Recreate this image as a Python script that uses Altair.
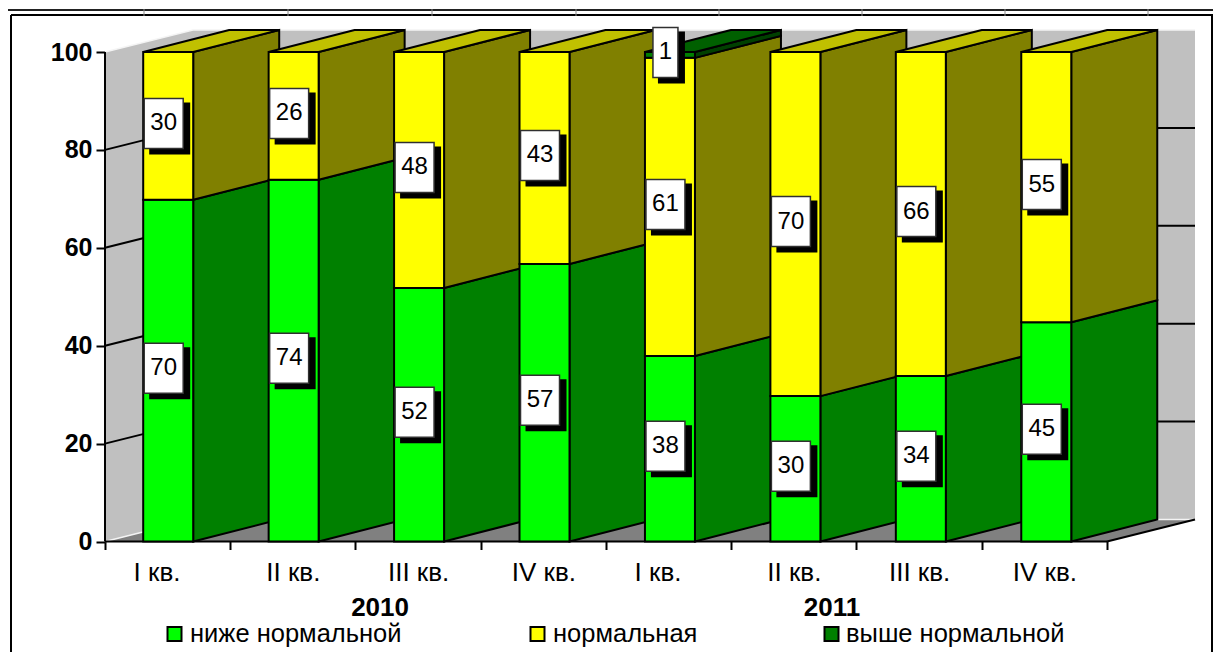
import json
import altair as alt
import pandas as pd

quarters = ["I кв.", "II кв.", "III кв.", "IV кв.", "I кв.", "II кв.", "III кв.", "IV кв."]
years = ["2010", "2011"]
series = ["ниже нормальной", "нормальная", "выше нормальной"]
below = [69.8, 73.9, 51.8, 56.7, 37.9, 29.7, 33.8, 44.8]
normal = [30.2, 26.1, 48.2, 43.3, 60.9, 70.3, 66.2, 55.2]
above = [0, 0, 0, 0, 1.2, 0, 0, 0]
labels_below = ["70", "74", "52", "57", "38", "30", "34", "45"]
labels_normal = ["30", "26", "48", "43", "61", "70", "66", "55"]
labels_above = ["", "", "", "", "1", "", "", ""]
ticks_y = [0, 20, 40, 60, 80, 100]

front_colors = ["#00ff00", "#ffff00", "#008000"]
side_colors = ["#008000", "#808000", "#004000"]
top_colors = ["#00c000", "#c0c000", "#006000"]

PX_X = 125.25
PX_Y = 4.895
WIDTH = 1090
HEIGHT = 511.5
WALL_DX = 88 / PX_X
BAR_DX = 86 / PX_X
DEPTH_Y = 22 / PX_Y
BAR_GAP = 0.305
BAR_W = 50 / PX_X
N = len(quarters)
X_DOMAIN = [0, WIDTH / PX_X]
Y_DOMAIN = [0, HEIGHT / PX_Y]

xs = alt.Scale(domain=X_DOMAIN, range=[0, WIDTH], nice=False, zero=False)
ys = alt.Scale(domain=Y_DOMAIN, range=[HEIGHT, 0], nice=False, zero=False)


def X(f="x"):
    return alt.X(f"{f}:Q", scale=xs, title=None, axis=None)


def Y(f="y"):
    return alt.Y(f"{f}:Q", scale=ys, title=None, axis=None)


fronts, sides, tops, boxes = [], [], [], []
for i in range(N):
    x0 = i + BAR_GAP + i * 0.0015
    x1 = x0 + BAR_W
    base = 0
    last = 0
    segs = zip([below[i], normal[i], above[i]],
               [labels_below[i], labels_normal[i], labels_above[i]], range(3))
    for v, lab, k in segs:
        if v <= 0:
            continue
        hi = base + v
        fronts.append(dict(x=x0, x2=x1, y=base, y2=hi, fill=front_colors[k]))
        for xx, dy in [(x1, 0), (x1 + BAR_DX, DEPTH_Y)]:
            sides.append(dict(face=f"{i}-{k}", x=xx, y=base + dy, y2=hi + dy, fill=side_colors[k]))
        half = (19.5 if len(lab) == 2 else 12.5) / PX_X
        cx = (x0 + x1) / 2 - 4.5 / PX_X
        cy = base + v / 2 + 2.5 / PX_Y
        boxes.append(dict(label=lab, cx=cx, cy=cy,
                          bx0=cx - half, bx1=cx + half,
                          by0=cy - 25 / PX_Y, by1=cy + 25 / PX_Y,
                          sx0=cx - half + 5 / PX_X, sx1=cx + half + 7 / PX_X,
                          sy0=cy - 31 / PX_Y, sy1=cy + 21 / PX_Y))
        last = k
        base = hi
    for yy, xa, xb in [(base, x0, x1), (base + DEPTH_Y, x0 + BAR_DX, x1 + BAR_DX)]:
        tops.append(dict(face=str(i), y=yy, x=xa, x2=xb, fill=top_colors[last]))

fronts, sides, tops, boxes = map(pd.DataFrame, (fronts, sides, tops, boxes))
x_labels_js = json.dumps(quarters, ensure_ascii=False)

left_wall = pd.DataFrame([dict(x=0, y=0, y2=100), dict(x=WALL_DX, y=DEPTH_Y, y2=100 + DEPTH_Y)])
back_wall = pd.DataFrame([dict(x=WALL_DX, x2=N + WALL_DX, y=DEPTH_Y, y2=100 + DEPTH_Y)])
floor = pd.DataFrame([dict(y=0, x=0, x2=N), dict(y=DEPTH_Y, x=WALL_DX, x2=N + WALL_DX)])
floor_edge = pd.DataFrame([dict(x=N, y=0), dict(x=N + WALL_DX, y=DEPTH_Y)])
grid = []
for t in ticks_y[1:-1]:
    grid += [dict(g=f"l{t}", x=0, y=t), dict(g=f"l{t}", x=WALL_DX, y=t + DEPTH_Y)]
    grid += [dict(g=f"b{t}", x=WALL_DX, y=t + DEPTH_Y), dict(g=f"b{t}", x=N + WALL_DX, y=t + DEPTH_Y)]
grid = pd.DataFrame(grid)
white_edges = pd.DataFrame([
    dict(g="a", x=0, y=100), dict(g="a", x=WALL_DX, y=100 + DEPTH_Y), dict(g="a", x=N + WALL_DX, y=100 + DEPTH_Y),
    dict(g="b", x=0, y=0), dict(g="b", x=WALL_DX, y=DEPTH_Y), dict(g="b", x=N + WALL_DX, y=DEPTH_Y),
])

axes_layer = alt.Chart(back_wall).mark_rect(fill="#c0c0c0").encode(
    x=alt.X("x:Q", scale=xs, title=None, axis=alt.Axis(
        orient="bottom", values=list(range(N + 1)), grid=False, domain=False,
        tickColor="black", tickWidth=2, tickSize=8,
        labelExpr=f"datum.value < {N} ? {x_labels_js}[datum.value] : ''",
        labelFont="Liberation Sans", labelFontSize=26, labelColor="black", labelPadding=10,
        labelOverlap=False, labelBound=False, labelFlush=False,
        labelOffset={"condition": {"test": "datum.value == 0 || datum.value == 4", "value": 51.5},
                     "value": 62.6},
    )),
    x2="x2:Q",
    y=alt.Y("y:Q", scale=ys, title=None, axis=alt.Axis(
        orient="left", values=ticks_y, grid=False, domain=False,
        tickColor="black", tickWidth=2, tickSize=9,
        labelFont="Liberation Sans", labelFontSize=25, labelFontWeight="bold", labelColor="black",
        labelPadding=4, labelOverlap=False, labelBound=False, labelFlush=False,
    )),
    y2="y2:Q",
)

layers = [axes_layer]
layers.append(alt.Chart(left_wall).mark_area(fill="#c0c0c0", orient="vertical").encode(x=X(), y=Y(), y2="y2:Q"))
layers.append(alt.Chart(floor).mark_area(fill="#808080", orient="horizontal").encode(y=Y(), x=X(), x2="x2:Q"))
layers.append(alt.Chart(white_edges).mark_line(color="#f4f4f4", strokeWidth=1.5).encode(x=X(), y=Y(), detail="g:N"))
layers.append(alt.Chart(grid).mark_line(color="black", strokeWidth=2).encode(x=X(), y=Y(), detail="g:N"))
layers.append(alt.Chart(floor_edge).mark_line(color="black", strokeWidth=2).encode(x=X(), y=Y()))
layers.append(alt.Chart(pd.DataFrame([dict(x=0, y=0, y2=100)])).mark_rule(color="black", strokeWidth=2).encode(x=X(), y=Y(), y2="y2:Q"))
layers.append(alt.Chart(pd.DataFrame([dict(x=0, x2=N, y=0)])).mark_rule(color="black", strokeWidth=2).encode(x=X(), x2="x2:Q", y=Y()))

layers.append(alt.Chart(sides).mark_area(orient="vertical", stroke="black", strokeWidth=2).encode(
    x=X(), y=Y(), y2="y2:Q", detail="face:N", fill=alt.Fill("fill:N", scale=None)))
layers.append(alt.Chart(tops).mark_area(orient="horizontal", stroke="black", strokeWidth=2).encode(
    y=Y(), x=X(), x2="x2:Q", detail="face:N", fill=alt.Fill("fill:N", scale=None)))
layers.append(alt.Chart(fronts).mark_rect(stroke="black", strokeWidth=2).encode(
    x=X(), x2="x2:Q", y=Y(), y2="y2:Q", fill=alt.Fill("fill:N", scale=None)))

layers.append(alt.Chart(boxes).mark_rect(fill="black").encode(x=X("sx0"), x2="sx1:Q", y=Y("sy0"), y2="sy1:Q"))
layers.append(alt.Chart(boxes).mark_rect(fill="white", stroke="#303030", strokeWidth=1.5).encode(x=X("bx0"), x2="bx1:Q", y=Y("by0"), y2="by1:Q"))
layers.append(alt.Chart(boxes).mark_text(font="Liberation Sans", fontSize=24, color="black", baseline="middle", align="center").encode(
    x=X("cx"), y=Y("cy"), text="label:N"))

year_pos = [2.196, 5.804]
layers.append(alt.Chart(pd.DataFrame(dict(x=year_pos, t=years))).mark_text(
    font="Liberation Sans", fontSize=26, fontWeight="bold", color="black", baseline="middle", align="center"
).encode(x=X(), y=alt.value(578), text="t:N"))

legend_x = [62.5, 425.5, 719.5]
legend_text_x = [85, 448, 741]
for k, name in enumerate(series):
    one = pd.DataFrame([dict(t=name)])
    layers.append(alt.Chart(one).mark_rect(fill=front_colors[k], stroke="black", strokeWidth=2).encode(
        x=alt.value(legend_x[k]), x2=alt.value(legend_x[k] + 14), y=alt.value(597), y2=alt.value(611)))
    layers.append(alt.Chart(one).mark_text(font="Liberation Sans", fontSize=25.5, color="black", baseline="middle", align="left").encode(
        x=alt.value(legend_text_x[k]), y=alt.value(604), text="t:N"))


def hline(x1, x2, y, color, w):
    return alt.Chart(pd.DataFrame([dict(a=0)])).mark_rule(color=color, strokeWidth=w).encode(
        x=alt.value(x1), x2=alt.value(x2), y=alt.value(y))


def vline(x, y1, y2, color, w):
    return alt.Chart(pd.DataFrame([dict(a=0)])).mark_rule(color=color, strokeWidth=w).encode(
        x=alt.value(x), y=alt.value(y1), y2=alt.value(y2))


frame_ticks = [39, 183, 327, 471, 614, 757, 900, 1043]
layers += [
    hline(-97, 1108, -20, "#222222", 2),
    hline(-94, 1108, -15, "black", 2),
    vline(-94, -15, 622, "black", 2),
    vline(1107, -15, 622, "black", 2),
]
layers += [vline(t, -21, -14, "#888888", 1) for t in frame_ticks]

chart = alt.layer(*layers).resolve_scale(x="shared", y="shared").resolve_axis(
    x="independent", y="independent"
).properties(
    width=WIDTH, height=HEIGHT,
    padding={"left": 97, "top": 22, "right": 18, "bottom": 111},
    autosize=alt.AutoSizeParams(type="none"),
    background="white",
).configure_view(stroke=None)

chart.save("out.html", embed_options={"renderer": "svg", "actions": False})
